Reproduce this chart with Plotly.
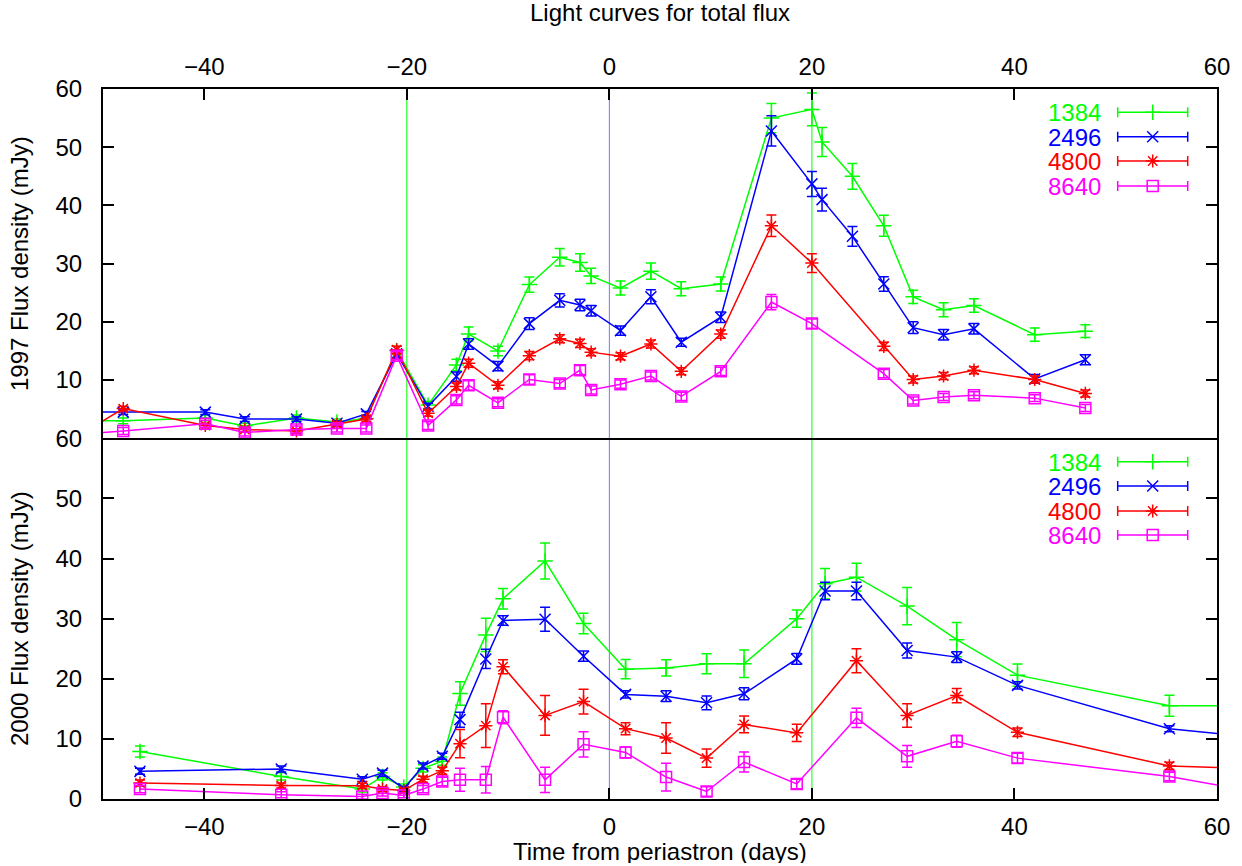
import plotly.graph_objects as go

# ---------------- data: 1997 (top panel) ----------------
t97_1384 = [-52, -48.0, -39.9, -36.0, -30.9, -26.9, -24.0, -21.0, -17.9, -15.1, -13.9, -11.0, -7.9, -4.9, -2.9, -1.8,
            1.1, 4.1, 7.1, 11.0, 16.0, 20.0, 21.0, 24.0, 27.1, 30.0, 33.0, 36.0, 42.0, 47.0]
f97_1384 = [3.0, 3.0, 3.5, 2.1, 3.5, 2.8, 3.4, 15.1, 5.7, 12.6, 17.9, 15.0, 26.4, 31.1, 30.2, 27.9,
            25.8, 28.7, 25.7, 26.5, 55.0, 56.5, 50.9, 45.0, 36.5, 24.3, 22.1, 22.8, 17.8, 18.4]
e97_1384 = [0.5, 0.5, 0.5, 0.5, 0.5, 0.5, 0.5, 0.7, 0.6, 1.0, 1.2, 0.8, 1.3, 1.5, 1.5, 1.3,
            1.2, 1.4, 1.2, 1.2, 2.5, 2.8, 2.5, 2.2, 1.8, 1.15, 1.2, 1.15, 1.15, 1.1]

t97_2496 = t97_1384
f97_2496 = [4.5, 4.5, 4.5, 3.3, 3.3, 2.6, 4.2, 14.5, 5.5, 10.6, 16.2, 12.4, 19.7, 23.7, 22.9, 21.9,
            18.5, 24.3, 16.5, 20.8, 52.8, 43.7, 41.0, 34.7, 26.5, 19.0, 17.8, 18.8, 10.2, 13.5]
e97_2496 = [0.4, 0.4, 0.4, 0.4, 0.4, 0.4, 0.4, 0.6, 0.5, 0.8, 0.9, 0.8, 1.0, 1.15, 1.0, 0.9,
            0.8, 1.2, 0.7, 0.9, 2.6, 2.15, 1.95, 1.7, 1.25, 1.0, 0.9, 0.9, 0.75, 0.85]

t97_4800 = [-52, -48.0, -39.9, -36.0, -30.9, -26.9, -24.0, -21.0, -17.9, -15.1, -13.9, -11.0, -7.9, -4.9, -2.9, -1.8,
            1.1, 4.1, 7.1, 11.0, 16.0, 20.0, 27.1, 30.0, 33.0, 36.0, 42.0, 47.0]
f97_4800 = [0.9, 5.1, 2.2, 1.5, 1.25, 2.4, 3.3, 15.2, 4.3, 8.9, 12.9, 9.1, 14.2, 17.1, 16.3, 14.8,
            14.1, 16.2, 11.5, 17.9, 36.5, 30.1, 15.8, 10.1, 10.7, 11.7, 10.1, 7.7]
e97_4800 = [0.4, 0.4, 0.4, 0.4, 0.4, 0.4, 0.4, 0.6, 0.5, 0.6, 0.7, 0.6, 0.7, 0.7, 0.7, 0.6,
            0.6, 0.7, 0.6, 0.7, 1.85, 1.6, 0.7, 0.6, 0.6, 0.6, 0.6, 0.6]

t97_8640 = t97_4800
f97_8640 = [0.75, 1.25, 2.5, 1.0, 1.5, 1.7, 1.7, 14.2, 2.2, 6.6, 9.1, 6.1, 10.1, 9.4, 11.7, 8.3,
            9.3, 10.7, 7.2, 11.5, 23.4, 19.7, 11.1, 6.5, 7.1, 7.4, 6.9, 5.2]
e97_8640 = [0.6, 0.6, 0.6, 0.6, 0.6, 0.6, 0.6, 0.7, 0.7, 0.7, 0.8, 0.7, 0.8, 0.7, 0.8, 0.7,
            0.7, 0.7, 0.7, 0.7, 1.3, 0.8, 0.7, 0.6, 0.6, 0.6, 0.6, 0.6]

# ---------------- data: 2000 (bottom panel) ----------------
t00_1384 = [-46.35, -32.4, -24.4, -22.4, -20.3, -18.4, -16.5, -14.75, -12.2, -10.5, -6.35, -2.55,
            1.6, 5.6, 9.6, 13.3, 18.5, 21.3, 24.4, 29.4, 34.3, 40.3, 55.3, 62.0]
f00_1384 = [7.9, 3.75, 1.65, 3.75, 2.0, 5.1, 6.3, 17.55, 27.3, 33.3, 39.6, 29.2,
            21.6, 21.8, 22.5, 22.5, 30.0, 35.8, 36.9, 32.1, 26.5, 20.6, 15.5, 15.5]
e00_1384 = [0.9, 0.6, 0.5, 0.6, 0.5, 0.6, 0.7, 1.95, 2.75, 1.7, 3.0, 1.7,
            1.6, 1.35, 1.65, 2.3, 1.45, 2.55, 2.3, 3.1, 2.85, 1.85, 1.75, 1.7]

t00_2496 = t00_1384
f00_2496 = [4.6, 5.0, 3.3, 4.3, 1.7, 5.5, 7.1, 13.2, 23.3, 29.7, 29.9, 23.75,
            17.4, 17.1, 16.0, 17.5, 23.3, 34.6, 34.6, 24.7, 23.6, 18.9, 11.7, 10.55]
e00_2496 = [0.5, 0.5, 0.4, 0.5, 0.4, 0.5, 0.5, 1.25, 1.6, 0.8, 2.0, 0.85,
            0.6, 0.9, 1.15, 1.0, 0.9, 1.45, 1.45, 1.25, 0.9, 0.6, 0.5, 0.5]

t00_4800 = [-46.35, -32.4, -24.4, -22.4, -20.3, -18.4, -16.5, -14.75, -12.2, -10.5, -6.35, -2.55,
            1.6, 5.6, 9.6, 13.3, 18.5, 24.4, 29.4, 34.3, 40.3, 55.3, 62.0]
f00_4800 = [2.65, 2.25, 2.2, 1.65, 1.4, 3.3, 4.7, 9.2, 12.2, 22.0, 13.9, 16.2,
            11.7, 10.15, 6.8, 12.4, 11.0, 23.0, 13.9, 17.2, 11.1, 5.5, 5.15]
e00_4800 = [0.5, 0.4, 0.4, 0.4, 0.4, 0.5, 0.6, 2.35, 3.65, 1.15, 3.3, 2.05,
            1.0, 2.55, 1.5, 1.4, 1.45, 2.0, 1.95, 1.2, 0.7, 0.6, 0.6]

t00_8640 = t00_4800
f00_8640 = [1.65, 0.7, 0.4, 1.0, 0.6, 1.65, 2.9, 3.2, 3.2, 13.6, 3.2, 9.1,
            7.75, 3.65, 1.25, 6.15, 2.5, 13.5, 7.1, 9.6, 6.8, 3.75, 1.75]
e00_8640 = [0.6, 0.5, 0.4, 0.5, 0.4, 0.6, 0.7, 1.9, 2.2, 1.1, 2.1, 2.1,
            0.9, 2.3, 0.8, 1.65, 0.8, 1.6, 1.8, 1.0, 0.8, 0.7, 0.7]

bands = ["1384", "2496", "4800", "8640"]
colors = ["#00ff00", "#0000ff", "#ff0000", "#ff00ff"]
symbols = ["cross-thin-open", "x-thin-open", "asterisk-open", "square-open"]
periastron_marks = [-20, 0, 20]
mark_colors = ["#00ff00", "#7878ff", "#00ff00"]

top_series = [(t97_1384, f97_1384, e97_1384), (t97_2496, f97_2496, e97_2496),
              (t97_4800, f97_4800, e97_4800), (t97_8640, f97_8640, e97_8640)]
bot_series = [(t00_1384, f00_1384, e00_1384), (t00_2496, f00_2496, e00_2496),
              (t00_4800, f00_4800, e00_4800), (t00_8640, f00_8640, e00_8640)]

FONT = "Liberation Sans, Arial, sans-serif"
FS = 24

# plot-area geometry (pixels)
L, R, T, B = 103, 25, 89, 67
W, H = 1242, 866
PW, PH = W - L - R, H - T - B


def px(x):
    return (x - L) / PW


def py(y):
    return (H - B - y) / PH


fig = go.Figure()

for (xs, ys, es), col, sym in zip(bot_series, colors, symbols):
    fig.add_trace(go.Scatter(x=xs, y=ys, mode="lines+markers", xaxis="x", yaxis="y",
                             line=dict(color=col, width=1.5),
                             marker=dict(symbol=sym, size=11, color=col, line=dict(color=col, width=1.5)),
                             error_y=dict(type="data", array=es, visible=True, color=col, thickness=1.5, width=5),
                             showlegend=False))
for (xs, ys, es), col, sym in zip(top_series, colors, symbols):
    fig.add_trace(go.Scatter(x=xs, y=ys, mode="lines+markers", xaxis="x2", yaxis="y2",
                             line=dict(color=col, width=1.5),
                             marker=dict(symbol=sym, size=11, color=col, line=dict(color=col, width=1.5)),
                             error_y=dict(type="data", array=es, visible=True, color=col, thickness=1.5, width=5),
                             showlegend=False))

# custom gnuplot-style keys (text left, sample right) on an overlay pixel axis
key_rows_top = [112.3, 136.7, 161.0, 186.0]
key_rows_bot = [461.7, 486.0, 511.0, 535.0]
annotations = []
for rows in (key_rows_top, key_rows_bot):
    for yk, name, col, sym in zip(rows, bands, colors, symbols):
        fig.add_trace(go.Scatter(x=[1152.7], y=[yk], mode="markers", xaxis="x3", yaxis="y3",
                                 marker=dict(symbol=sym, size=11, color=col, line=dict(color=col, width=1.5)),
                                 error_x=dict(type="constant", value=35, visible=True, color=col,
                                              thickness=1.5, width=5),
                                 showlegend=False, hoverinfo="skip"))
        annotations.append(dict(x=px(1103), y=py(yk), xref="paper", yref="paper", text=name,
                                showarrow=False, xanchor="right", yanchor="middle", height=22,
                                font=dict(family=FONT, size=FS, color=col)))

annotations += [
    dict(x=px(660), y=py(13), xref="paper", yref="paper", text="Light curves for total flux",
         showarrow=False, xanchor="center", yanchor="middle", font=dict(family=FONT, size=FS, color="black")),
    dict(x=px(660), y=py(851), xref="paper", yref="paper", text="Time from periastron (days)",
         showarrow=False, xanchor="center", yanchor="middle", height=24,
         font=dict(family=FONT, size=FS, color="black")),
    dict(x=px(19), y=py(264), xref="paper", yref="paper", text="1997 Flux density (mJy)", textangle=-90,
         showarrow=False, xanchor="center", yanchor="middle", font=dict(family=FONT, size=FS, color="black")),
    dict(x=px(19), y=py(619), xref="paper", yref="paper", text="2000 Flux density (mJy)", textangle=-90,
         showarrow=False, xanchor="center", yanchor="middle", font=dict(family=FONT, size=FS, color="black")),
]

shapes = [dict(type="line", xref="x", yref="paper", x0=xv, x1=xv, y0=0, y1=1,
               line=dict(color=c, width=1), layer="below")
          for xv, c in zip(periastron_marks, mark_colors)]

split = py(438.3)
axis_common = dict(showline=True, linewidth=2, linecolor="black", showgrid=False, zeroline=False,
                   ticks="inside", ticklen=11, tickwidth=2, tickcolor="black", automargin=False,
                   tickfont=dict(family=FONT, size=FS, color="black"))

fig.update_layout(
    width=W, height=H,
    margin=dict(l=L, r=R, t=T, b=B, pad=0, autoexpand=False),
    paper_bgcolor="white", plot_bgcolor="rgba(0,0,0,0)",
    xaxis=dict(domain=[0, 1], range=[-50, 60], anchor="y", tick0=0, dtick=20, mirror=False,
               ticklabelstandoff=5, **axis_common),
    xaxis2=dict(domain=[0, 1], range=[-50, 60], anchor="y2", side="top", tick0=0, dtick=20, mirror=True,
                ticklabelstandoff=2, **axis_common),
    yaxis=dict(domain=[0, split], range=[0, 60], anchor="x", tick0=0, dtick=10, mirror="ticks",
               ticklabelstandoff=14, **axis_common),
    yaxis2=dict(domain=[split, 1], range=[0, 60], anchor="x2", tickvals=[10, 20, 30, 40, 50, 60],
                mirror="ticks", ticklabelstandoff=14, **axis_common),
    xaxis3=dict(domain=[0, 1], range=[L, W - R], anchor="y3", visible=False, fixedrange=True),
    yaxis3=dict(domain=[0, 1], range=[H - B, T], anchor="x3", visible=False, fixedrange=True),
    annotations=annotations,
    shapes=shapes,
    font=dict(family=FONT, size=FS, color="black"),
)

fig.write_html("out.html")
